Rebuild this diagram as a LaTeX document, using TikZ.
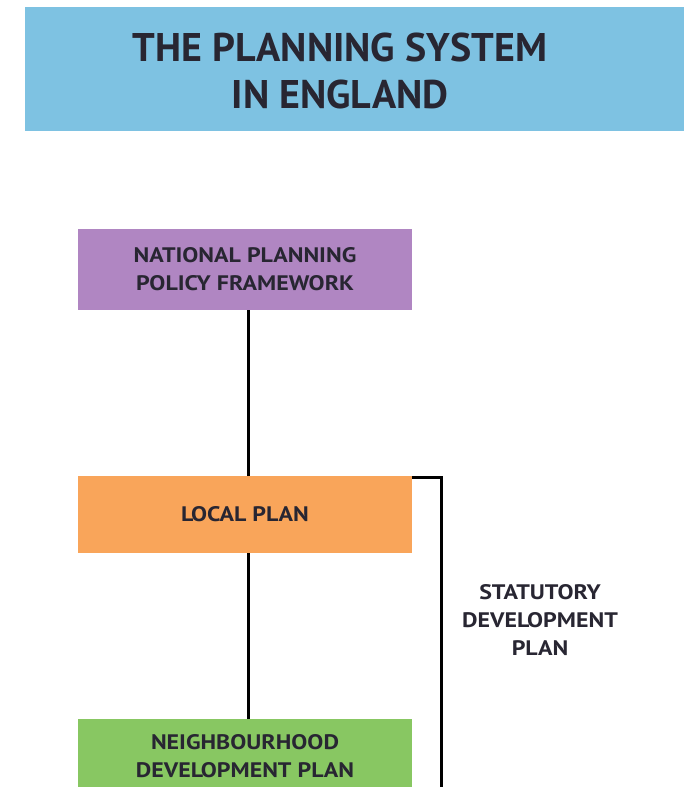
\documentclass[tikz,border=0pt]{standalone}
\usepackage{fontspec}
\setmainfont{PT Sans}
\usepackage{xcolor}
\usepackage{tikz}
\usetikzlibrary{positioning}

\definecolor{bannerblue}{RGB}{126,194,226}
\definecolor{nppfpurple}{RGB}{176,134,194}
\definecolor{localorange}{RGB}{249,165,90}
\definecolor{ndpgreen}{RGB}{136,199,98}
\definecolor{inkdark}{RGB}{40,38,50}

% box text is set a little wider than PT Sans
\newcommand{\wideline}[1]{\scalebox{1.14}[1]{#1}}

\tikzset{
	planbox/.style={minimum width=334pt, inner sep=0pt, align=center,
		font=\fontsize{21}{28}\selectfont\bfseries, text=inkdark},
	link/.style={line width=3pt, black}
}

\begin{document}
\begin{tikzpicture}[x=1pt,y=-1pt]
		\useasboundingbox (0,0) rectangle (684,787);
		\clip (0,0) rectangle (684,787);
		%
		\fill[bannerblue] (25,7) rectangle (684,131);
		\node[font=\fontsize{40}{47}\selectfont\bfseries, text=inkdark, align=center] (title) at (340,71)
			{THE PLANNING SYSTEM\\IN ENGLAND};
		%
		\node[planbox, fill=nppfpurple, minimum height=81pt] (nppf) at (245,269.5)
			{\wideline{NATIONAL PLANNING}\\\wideline{POLICY FRAMEWORK}};
		\node[planbox, fill=localorange, minimum height=77pt] (local) at (245,514.5) {\wideline{LOCAL PLAN}};
		\node[planbox, fill=ndpgreen, minimum height=74pt] (ndp) at (245,756)
			{\wideline{NEIGHBOURHOOD}\\\wideline{DEVELOPMENT PLAN}};
		%
		\draw[link] (nppf.south -| 248,0) -- (local.north -| 248,0);
		\draw[link] (local.south -| 248,0) -- (ndp.north -| 248,0);
		%
		\coordinate (bracketend) at (441,800);
		\draw[link] ([yshift=-1.5pt]local.north east) -| (bracketend);
		\node[font=\fontsize{21}{28}\selectfont\bfseries, text=inkdark, align=center] (statutory) at (540,620)
			{\wideline{STATUTORY}\\\wideline{DEVELOPMENT}\\\wideline{PLAN}};
		\end{tikzpicture}
\end{document}
